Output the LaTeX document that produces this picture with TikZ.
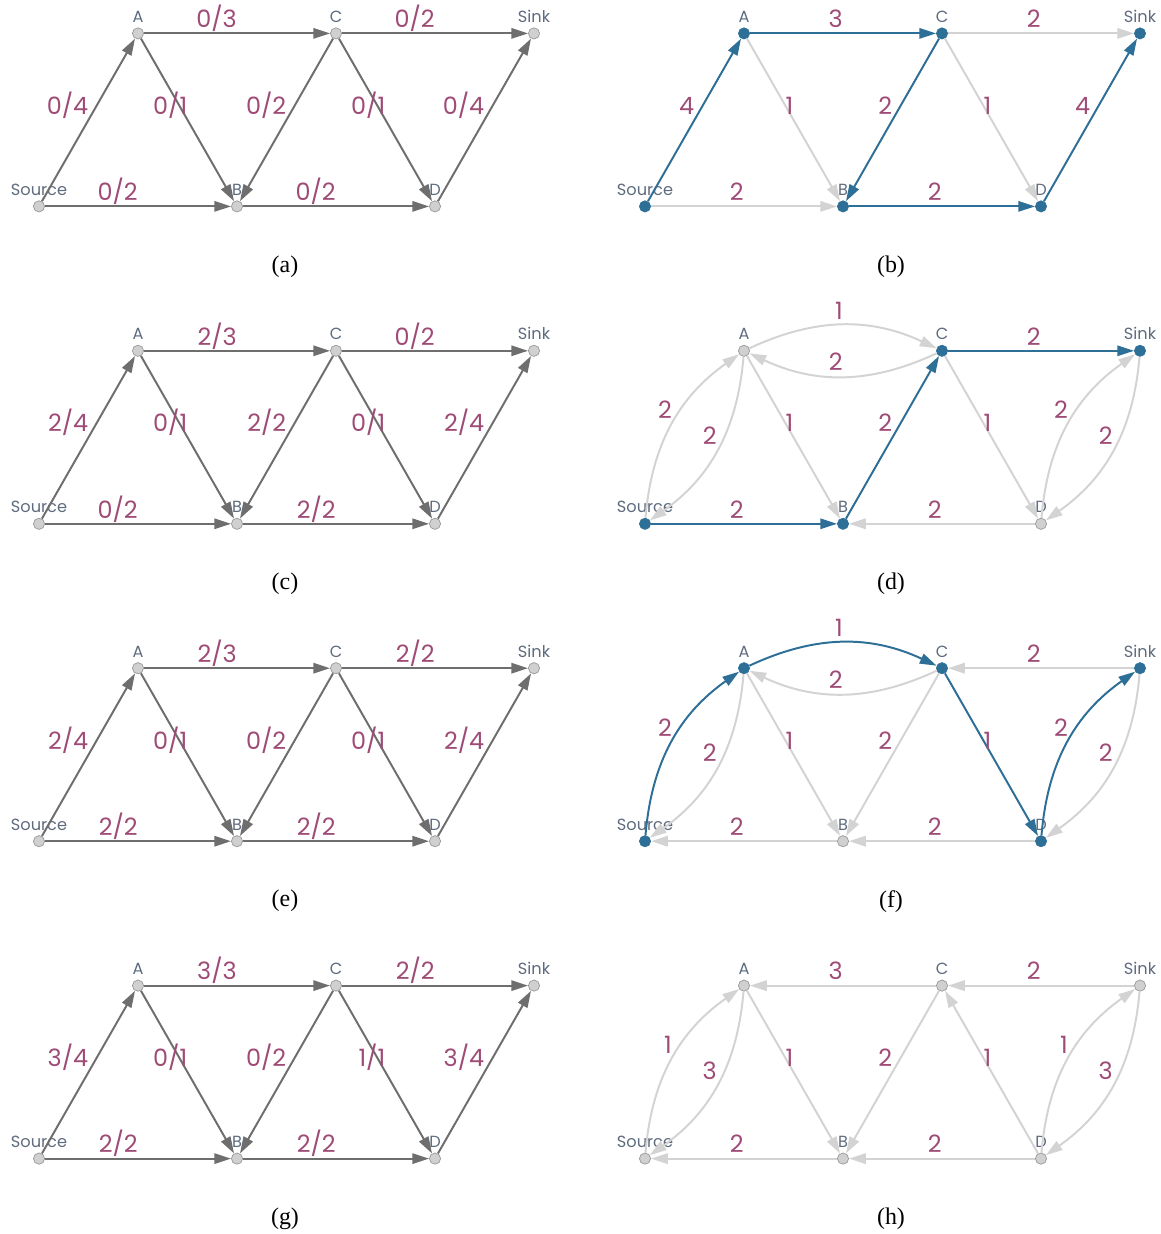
\documentclass[tikz,border=0pt]{standalone}
\usepackage{fontspec}
\setmainfont{Liberation Serif}
\newfontfamily\gothic{Poppins}
\usepackage{tikz}
\usetikzlibrary{arrows.meta}
\definecolor{flowpurple}{HTML}{9E4B76}
\definecolor{slatelabel}{HTML}{5E6B7E}
\definecolor{pathblue}{HTML}{2E6F97}
\definecolor{edgegrey}{HTML}{6E6E6E}
\definecolor{residgrey}{HTML}{D3D3D3}
\definecolor{vertexgrey}{HTML}{D0D0D0}
\tikzstyle{vertex} = [circle, minimum size=0.28cm, inner sep=0pt, draw=black!40, fill=vertexgrey, line width=0.5pt]
\tikzstyle{hot} = [vertex, draw=pathblue, fill=pathblue]
\tikzstyle{nlabel} = [font=\gothic\fontsize{11.5}{12}\selectfont, text=slatelabel]

% the six vertices of one network: prefix, then styles of Source, A, B, C, D, Sink
\newcommand{\network}[7]{
  \node[#2, label={[nlabel]above:Source}] (#1-src) at (0,0) {};
  \node[#3, label={[nlabel]above:A}] (#1-A) at (2.475,4.325) {};
  \node[#4, label={[nlabel]above:B}] (#1-B) at (4.95,0) {};
  \node[#5, label={[nlabel]above:C}] (#1-C) at (7.425,4.325) {};
  \node[#6, label={[nlabel]above:D}] (#1-D) at (9.9,0) {};
  \node[#7, label={[nlabel]above:Sink}] (#1-snk) at (12.375,4.325) {};
}

\begin{document}
\begin{tikzpicture}[
    flow/.style={midway, anchor=base east, inner sep=0pt, yshift=4pt, xshift=0.5pt,
      font=\gothic\fontsize{17}{18}\selectfont, text=flowpurple},
    netedge/.style={-{Triangle[length=0.42cm, width=0.26cm]}, line width=1.4pt, draw=edgegrey},
    res/.style={netedge, draw=residgrey},
    aug/.style={netedge, draw=pathblue},
    caption/.style={font=\fontsize{17}{20}\selectfont}
  ]
    \useasboundingbox (0,0) rectangle (29,-30.85);

    % (a): nothing sent yet
    \begin{scope}[shift={(0.975,-5.16)}]
      \network{a}{vertex}{vertex}{vertex}{vertex}{vertex}{vertex}
      \draw[netedge] (a-src) -- node[flow] {0/4} (a-A);
      \draw[netedge] (a-A) -- node[flow] {0/3} (a-C);
      \draw[netedge] (a-C) -- node[flow] {0/2} (a-snk);
      \draw[netedge] (a-src) -- node[flow] {0/2} (a-B);
      \draw[netedge] (a-A) -- node[flow] {0/1} (a-B);
      \draw[netedge] (a-C) -- node[flow] {0/2} (a-B);
      \draw[netedge] (a-C) -- node[flow] {0/1} (a-D);
      \draw[netedge] (a-B) -- node[flow] {0/2} (a-D);
      \draw[netedge] (a-D) -- node[flow] {0/4} (a-snk);
      \node[caption] (a-cap) at (6.15,-1.5) {(a)};
    \end{scope}

    % (b): residual, first path
    \begin{scope}[shift={(16.125,-5.16)}]
      \network{b}{hot}{hot}{hot}{hot}{hot}{hot}
      \draw[res] (b-C) -- node[flow] {2} (b-snk);
      \draw[res] (b-src) -- node[flow] {2} (b-B);
      \draw[res] (b-A) -- node[flow] {1} (b-B);
      \draw[res] (b-C) -- node[flow] {1} (b-D);
      \draw[aug] (b-src) -- node[flow] {4} (b-A);
      \draw[aug] (b-A) -- node[flow] {3} (b-C);
      \draw[aug] (b-C) -- node[flow] {2} (b-B);
      \draw[aug] (b-B) -- node[flow] {2} (b-D);
      \draw[aug] (b-D) -- node[flow] {4} (b-snk);
      \node[caption] (b-cap) at (6.15,-1.5) {(b)};
    \end{scope}

    % (c): after first path
    \begin{scope}[shift={(0.975,-13.095)}]
      \network{c}{vertex}{vertex}{vertex}{vertex}{vertex}{vertex}
      \draw[netedge] (c-src) -- node[flow] {2/4} (c-A);
      \draw[netedge] (c-A) -- node[flow] {2/3} (c-C);
      \draw[netedge] (c-C) -- node[flow] {0/2} (c-snk);
      \draw[netedge] (c-src) -- node[flow] {0/2} (c-B);
      \draw[netedge] (c-A) -- node[flow] {0/1} (c-B);
      \draw[netedge] (c-C) -- node[flow] {2/2} (c-B);
      \draw[netedge] (c-C) -- node[flow] {0/1} (c-D);
      \draw[netedge] (c-B) -- node[flow] {2/2} (c-D);
      \draw[netedge] (c-D) -- node[flow] {2/4} (c-snk);
      \node[caption] (c-cap) at (6.15,-1.5) {(c)};
    \end{scope}

    % (d): residual, second path
    \begin{scope}[shift={(16.125,-13.095)}]
      \network{d}{hot}{vertex}{hot}{hot}{vertex}{hot}
      \draw[res] (d-src) to[bend left=25] node[flow] {2} (d-A);
      \draw[res] (d-A) to[bend left=25] node[flow] {2} (d-src);
      \draw[res] (d-A) to[bend left=25] node[flow] {1} (d-C);
      \draw[res] (d-C) to[bend left=25] node[flow] {2} (d-A);
      \draw[res] (d-A) -- node[flow] {1} (d-B);
      \draw[res] (d-C) -- node[flow] {1} (d-D);
      \draw[res] (d-D) -- node[flow] {2} (d-B);
      \draw[res] (d-D) to[bend left=25] node[flow] {2} (d-snk);
      \draw[res] (d-snk) to[bend left=25] node[flow] {2} (d-D);
      \draw[aug] (d-src) -- node[flow] {2} (d-B);
      \draw[aug] (d-B) -- node[flow] {2} (d-C);
      \draw[aug] (d-C) -- node[flow] {2} (d-snk);
      \node[caption] (d-cap) at (6.15,-1.5) {(d)};
    \end{scope}

    % (e): after second path
    \begin{scope}[shift={(0.975,-21.03)}]
      \network{e}{vertex}{vertex}{vertex}{vertex}{vertex}{vertex}
      \draw[netedge] (e-src) -- node[flow] {2/4} (e-A);
      \draw[netedge] (e-A) -- node[flow] {2/3} (e-C);
      \draw[netedge] (e-C) -- node[flow] {2/2} (e-snk);
      \draw[netedge] (e-src) -- node[flow] {2/2} (e-B);
      \draw[netedge] (e-A) -- node[flow] {0/1} (e-B);
      \draw[netedge] (e-C) -- node[flow] {0/2} (e-B);
      \draw[netedge] (e-C) -- node[flow] {0/1} (e-D);
      \draw[netedge] (e-B) -- node[flow] {2/2} (e-D);
      \draw[netedge] (e-D) -- node[flow] {2/4} (e-snk);
      \node[caption] (e-cap) at (6.15,-1.5) {(e)};
    \end{scope}

    % (f): residual, third path
    \begin{scope}[shift={(16.125,-21.03)}]
      \network{f}{hot}{hot}{vertex}{hot}{hot}{hot}
      \draw[res] (f-A) to[bend left=25] node[flow] {2} (f-src);
      \draw[res] (f-C) to[bend left=25] node[flow] {2} (f-A);
      \draw[res] (f-snk) -- node[flow] {2} (f-C);
      \draw[res] (f-B) -- node[flow] {2} (f-src);
      \draw[res] (f-A) -- node[flow] {1} (f-B);
      \draw[res] (f-C) -- node[flow] {2} (f-B);
      \draw[res] (f-D) -- node[flow] {2} (f-B);
      \draw[res] (f-snk) to[bend left=25] node[flow] {2} (f-D);
      \draw[aug] (f-src) to[bend left=25] node[flow] {2} (f-A);
      \draw[aug] (f-A) to[bend left=25] node[flow] {1} (f-C);
      \draw[aug] (f-C) -- node[flow] {1} (f-D);
      \draw[aug] (f-D) to[bend left=25] node[flow] {2} (f-snk);
      \node[caption] (f-cap) at (6.15,-1.5) {(f)};
    \end{scope}

    % (g): maximum flow
    \begin{scope}[shift={(0.975,-28.965)}]
      \network{g}{vertex}{vertex}{vertex}{vertex}{vertex}{vertex}
      \draw[netedge] (g-src) -- node[flow] {3/4} (g-A);
      \draw[netedge] (g-A) -- node[flow] {3/3} (g-C);
      \draw[netedge] (g-C) -- node[flow] {2/2} (g-snk);
      \draw[netedge] (g-src) -- node[flow] {2/2} (g-B);
      \draw[netedge] (g-A) -- node[flow] {0/1} (g-B);
      \draw[netedge] (g-C) -- node[flow] {0/2} (g-B);
      \draw[netedge] (g-C) -- node[flow] {1/1} (g-D);
      \draw[netedge] (g-B) -- node[flow] {2/2} (g-D);
      \draw[netedge] (g-D) -- node[flow] {3/4} (g-snk);
      \node[caption] (g-cap) at (6.15,-1.5) {(g)};
    \end{scope}

    % (h): residual, no path left
    \begin{scope}[shift={(16.125,-28.965)}]
      \network{h}{vertex}{vertex}{vertex}{vertex}{vertex}{vertex}
      \draw[res] (h-src) to[bend left=25] node[flow] {1} (h-A);
      \draw[res] (h-A) to[bend left=25] node[flow] {3} (h-src);
      \draw[res] (h-C) -- node[flow] {3} (h-A);
      \draw[res] (h-snk) -- node[flow] {2} (h-C);
      \draw[res] (h-B) -- node[flow] {2} (h-src);
      \draw[res] (h-A) -- node[flow] {1} (h-B);
      \draw[res] (h-C) -- node[flow] {2} (h-B);
      \draw[res] (h-D) -- node[flow] {1} (h-C);
      \draw[res] (h-D) -- node[flow] {2} (h-B);
      \draw[res] (h-D) to[bend left=25] node[flow] {1} (h-snk);
      \draw[res] (h-snk) to[bend left=25] node[flow] {3} (h-D);
      \node[caption] (h-cap) at (6.15,-1.5) {(h)};
    \end{scope}
  \end{tikzpicture}
\end{document}
